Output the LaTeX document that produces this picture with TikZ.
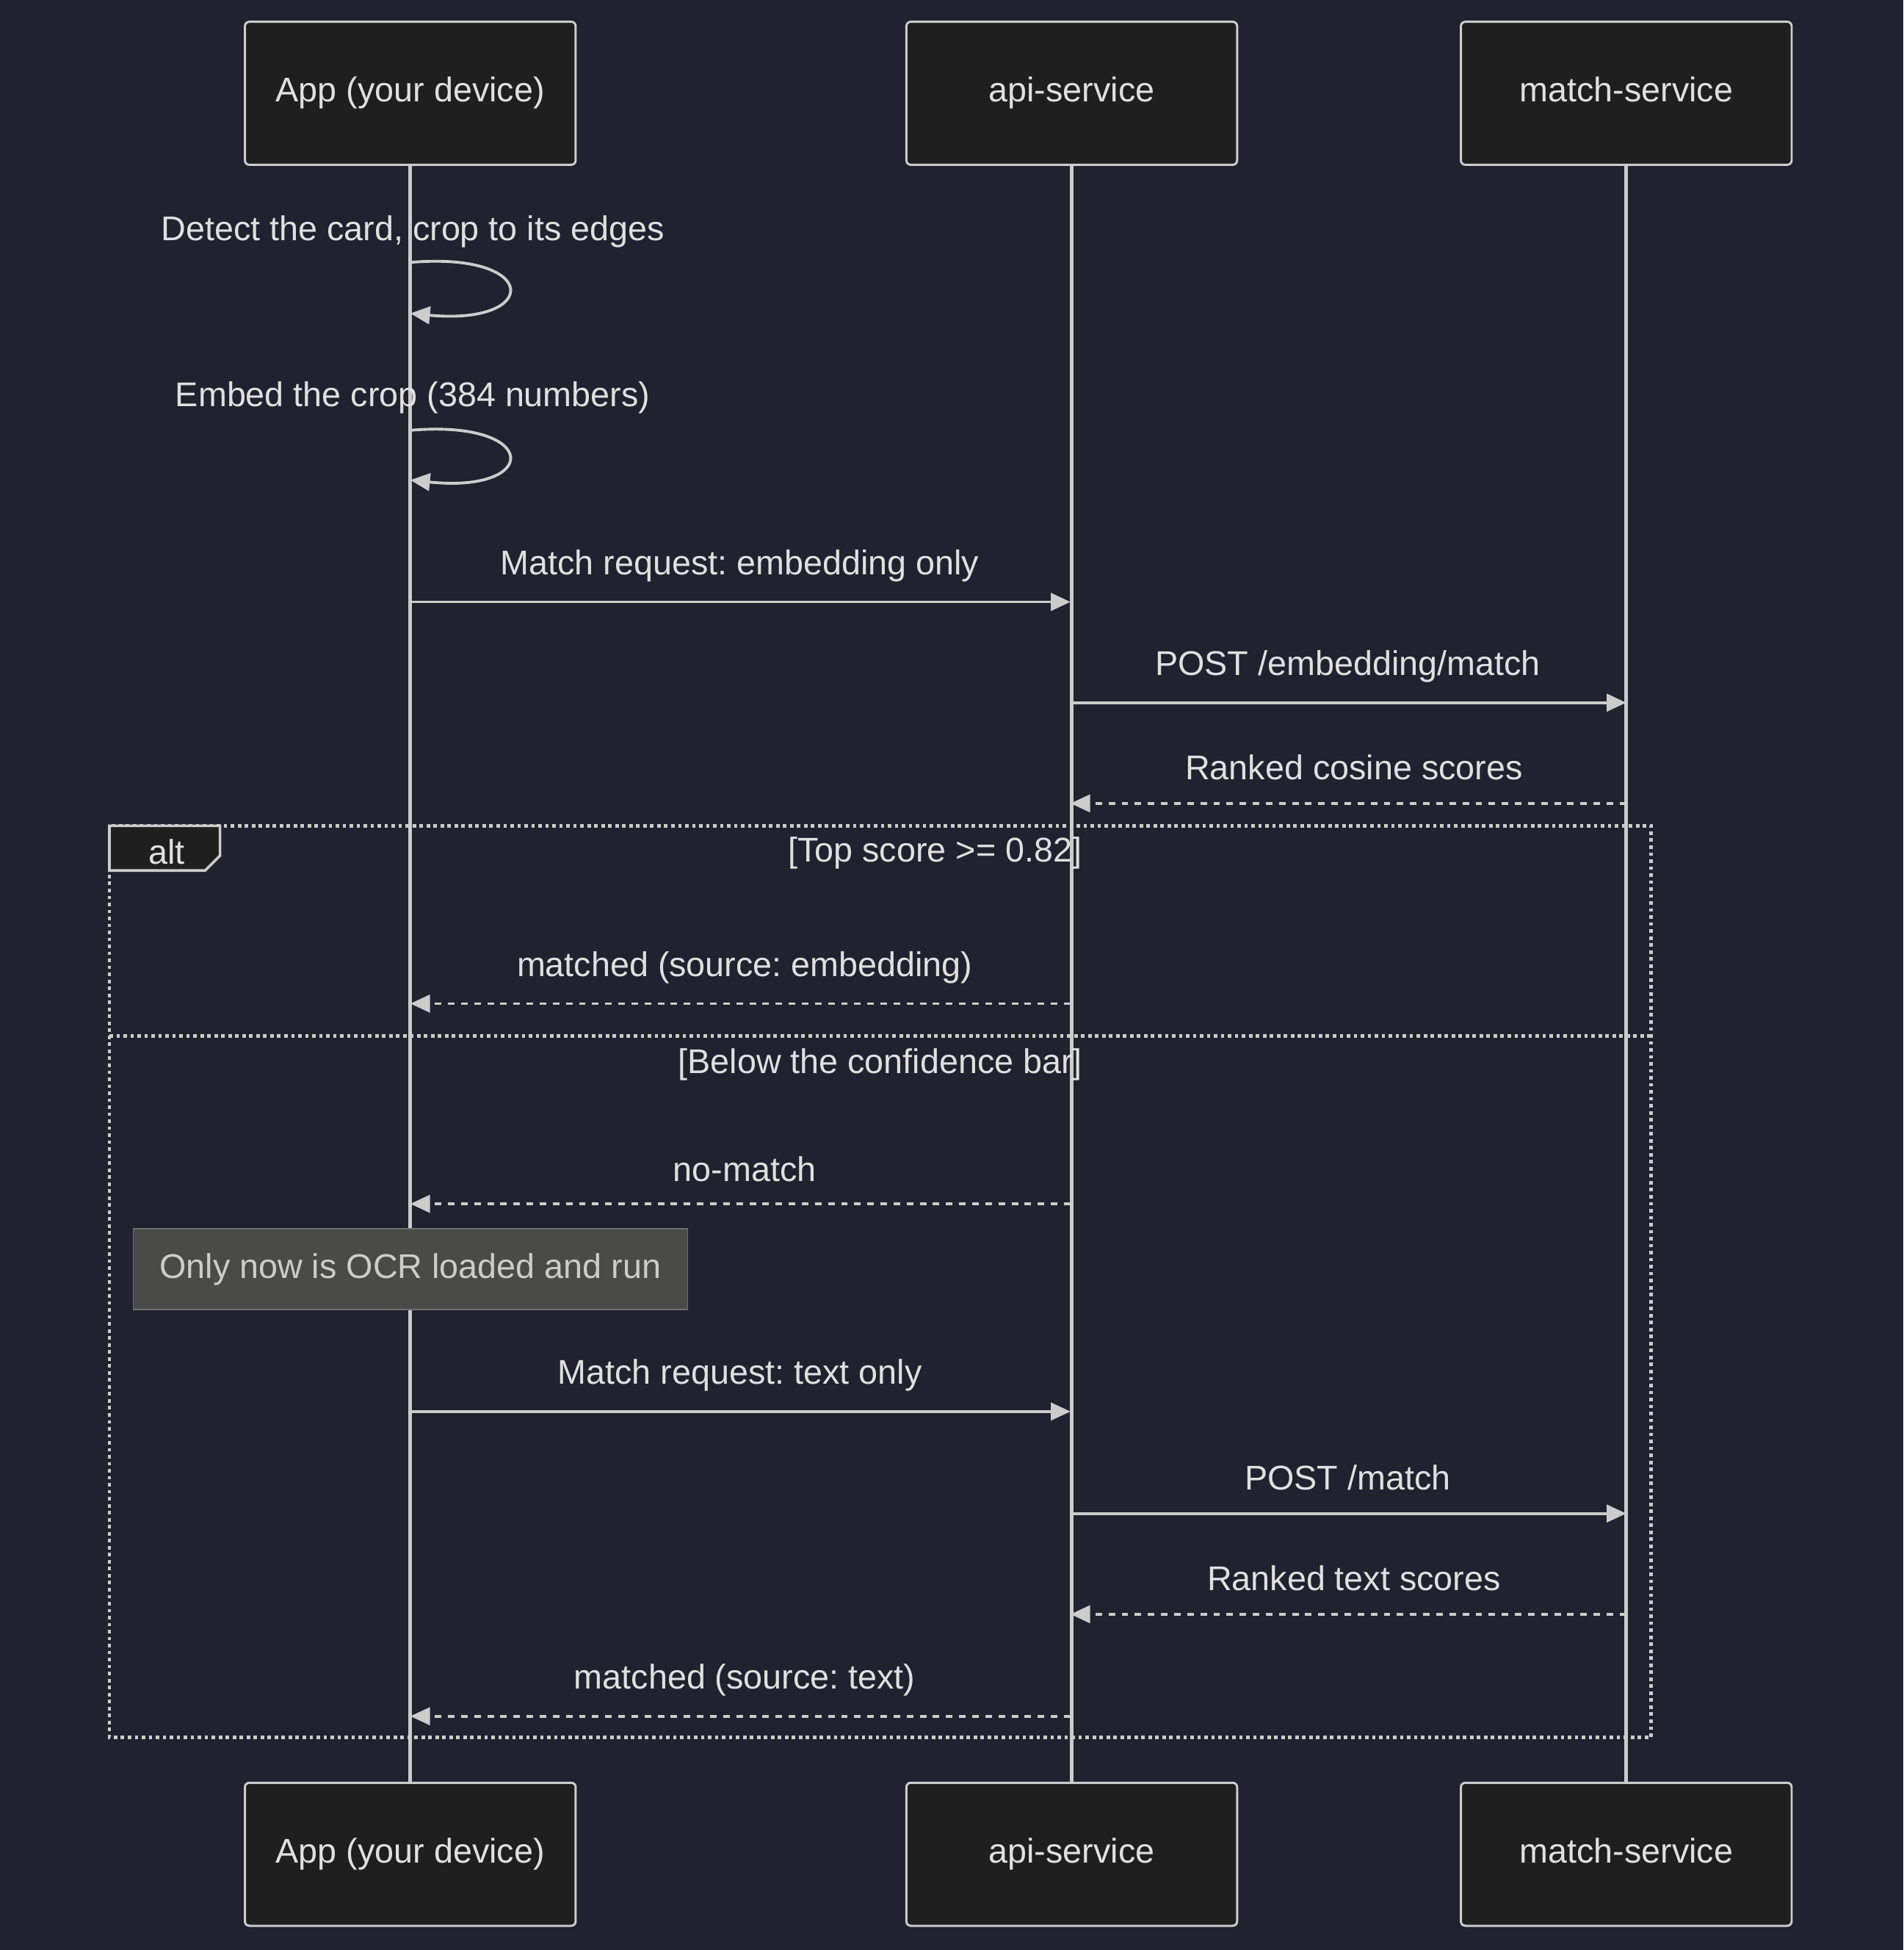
\documentclass[tikz,border=0pt]{standalone}
\usepackage{fontspec}
\setmainfont{Liberation Sans}
\usetikzlibrary{arrows.meta}
\frenchspacing
\definecolor{bg}{HTML}{22212F}
\definecolor{ln}{HTML}{CCCCCC}
\definecolor{tx}{HTML}{E0E0E0}
\definecolor{bx}{HTML}{1F1F1F}
\definecolor{nt}{HTML}{4A4B48}
\begin{document}
\begin{tikzpicture}[x=0.02cm,y=-0.02cm,
  actor/.style={draw=ln,fill=bx,line width=1pt,rounded corners=2pt,minimum width=266*0.02cm,minimum height=115*0.02cm,text=tx,font=\fontsize{15.7}{18}\selectfont,text height=11pt,text depth=3pt},
  lbl/.style={text=tx,font=\fontsize{15.7}{18}\selectfont},
  life/.style={draw=ln,line width=1.7pt},
  msg/.style={draw=ln,line width=1.3pt,-{Triangle[length=9pt,width=8pt]}},
  rmsg/.style={msg,dashed},
  frame/.style={draw=ln,line width=1.6pt,dash pattern=on 1.6pt off 1.6pt},
]
\fill[bg] (0,0) rectangle (1531,1568);
\useasboundingbox (0,0) rectangle (1531,1568);
\node[actor] (a1) at (330,75) {App (your device)};
\node[actor] (b1) at (862,75) {api-service};
\node[actor] (c1) at (1308,75) {match-service};
\node[actor] (a2) at (330,1491) {App (your device)};
\node[actor] (b2) at (862,1491) {api-service};
\node[actor] (c2) at (1308,1491) {match-service};
\draw[life] (a1) -- (a2);
\draw[life] (b1) -- (b2);
\draw[life] (c1) -- (c2);
% self loops
\node[lbl] (l1) at (332,186) {Detect the card, crop to its edges};
\draw[msg] (330,211) .. controls (435,202) and (435,262) .. (330,252);
\node[lbl] (l2) at (332,320) {Embed the crop (384 numbers)};
\draw[msg] (330,346) .. controls (435,337) and (435,397) .. (330,386);
% messages
\coordinate (a484) at (330,484); \coordinate (b484) at (861,484);
\draw[msg] (a484) -- (b484);
\node[lbl] at (595,455) {Match request: embedding only};
\coordinate (b565) at (861,565); \coordinate (c565) at (1308,565);
\draw[msg] (b565) -- (c565);
\node[lbl] at (1084,536) {POST /embedding/match};
\coordinate (c646) at (1308,646); \coordinate (b646) at (861,646);
\draw[rmsg] (c646) -- (b646);
\node[lbl] at (1089,617) {Ranked cosine scores};
% alt
\draw[frame] (88,664) rectangle (1328,1397);
\draw[ln,line width=1.2pt,fill=bx] (88,664) -- (177,664) -- (177,688) -- (165,700) -- (88,700) -- cycle;
\node[lbl] at (134,685) {alt};
\node[lbl] at (752,686) {[Top score >= 0.82]};
\coordinate (b807) at (861,807); \coordinate (a807) at (330,807);
\draw[rmsg] (b807) -- (a807);
\node[lbl] at (599,778) {matched (source: embedding)};
\draw[frame] (88,833) -- (1328,833);
\node[lbl] at (708,856) {[Below the confidence bar]};
\coordinate (b968) at (861,968); \coordinate (a968) at (330,968);
\draw[rmsg] (b968) -- (a968);
\node[lbl] at (599,940) {no-match};
\node[draw=nt!80!white,fill=nt,minimum width=446*0.02cm,minimum height=65*0.02cm,text=ln,font=\fontsize{15.7}{18}\selectfont] (note) at (330,1020.5) {Only now is OCR loaded and run};
\coordinate (a1135) at (330,1135); \coordinate (b1135) at (861,1135);
\draw[msg] (a1135) -- (b1135);
\node[lbl] at (595,1106) {Match request: text only};
\coordinate (b1217) at (861,1217); \coordinate (c1217) at (1308,1217);
\draw[msg] (b1217) -- (c1217);
\node[lbl] at (1084,1188) {POST /match};
\coordinate (c1298) at (1308,1298); \coordinate (b1298) at (861,1298);
\draw[rmsg] (c1298) -- (b1298);
\node[lbl] at (1089,1269) {Ranked text scores};
\coordinate (b1380) at (861,1380); \coordinate (a1380) at (330,1380);
\draw[rmsg] (b1380) -- (a1380);
\node[lbl] at (599,1351) {matched (source: text)};
\end{tikzpicture}
\end{document}
